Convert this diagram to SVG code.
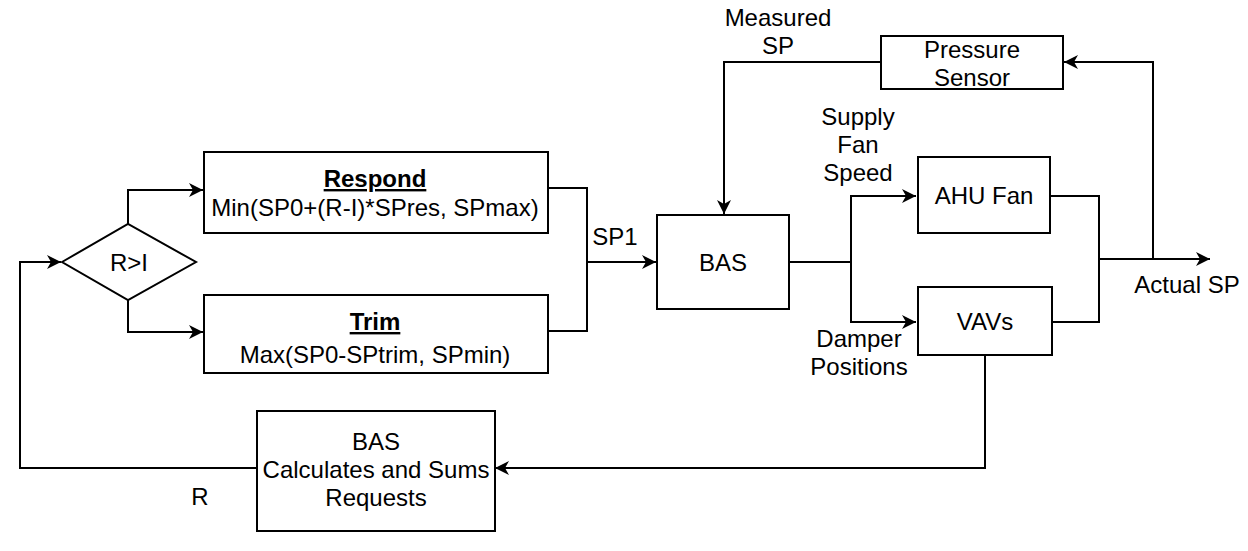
<svg xmlns="http://www.w3.org/2000/svg" width="1248" height="551" viewBox="0 0 1248 551">
<style>
.box{fill:#fff;stroke:#000;stroke-width:2}
.ln{fill:none;stroke:#000;stroke-width:2}
text{font-family:"Liberation Sans",Arial,sans-serif;font-size:24px;fill:#000;text-anchor:middle}
.b{font-weight:bold;text-decoration:underline}
</style>
<defs>
<marker id="ah" markerUnits="userSpaceOnUse" markerWidth="16" markerHeight="14" refX="14" refY="7" orient="auto">
<path d="M0,0 L14,7 L0,14 L4,7 z" fill="#000"/>
</marker>
</defs>
<rect width="1248" height="551" fill="#fff"/>
<g id="connectors">
<path class="ln" d="M128,225 V190 H203" marker-end="url(#ah)"/>
<path class="ln" d="M128,299 V332 H203" marker-end="url(#ah)"/>
<path class="ln" d="M548,188 H587 V331 H548"/>
<path class="ln" d="M587,262 H656" marker-end="url(#ah)"/>
<path class="ln" d="M789,262 H851"/>
<path class="ln" d="M851,262 V196 H916" marker-end="url(#ah)"/>
<path class="ln" d="M851,262 V322 H916" marker-end="url(#ah)"/>
<path class="ln" d="M1050,196 H1099 V322 H1052"/>
<path class="ln" d="M1099,259 H1210" marker-end="url(#ah)"/>
<path class="ln" d="M1153,259 V62 H1064" marker-end="url(#ah)"/>
<path class="ln" d="M881,62 H724 V214" marker-end="url(#ah)"/>
<path class="ln" d="M985,355 V468 H495" marker-end="url(#ah)"/>
<path class="ln" d="M257,468 H20 V262 H61" marker-end="url(#ah)"/>
</g>
<g id="decision">
<polygon class="box" points="62,262 128,224 196,262 128,300"/>
<text x="129" y="271">R&gt;I</text>
</g>
<g id="respond">
<rect class="box" x="204" y="152" width="344" height="81"/>
<text class="b" x="375" y="187">Respond</text>
<text x="375" y="216">Min(SP0+(R-I)*SPres, SPmax)</text>
</g>
<g id="trim">
<rect class="box" x="204" y="295" width="344" height="78"/>
<text class="b" x="375" y="330">Trim</text>
<text x="375" y="363">Max(SP0-SPtrim, SPmin)</text>
</g>
<g id="bas">
<rect class="box" x="657" y="215" width="132" height="94"/>
<text x="723" y="271">BAS</text>
</g>
<g id="ahu">
<rect class="box" x="918" y="157" width="132" height="76"/>
<text x="984" y="204">AHU Fan</text>
</g>
<g id="vavs">
<rect class="box" x="918" y="287" width="134" height="68"/>
<text x="985" y="330">VAVs</text>
</g>
<g id="sensor">
<rect class="box" x="881" y="36" width="182" height="53"/>
<text x="972" y="58">Pressure</text>
<text x="972" y="86">Sensor</text>
</g>
<g id="bascalc">
<rect class="box" x="257" y="411" width="238" height="120"/>
<text x="376" y="450">BAS</text>
<text x="376" y="478">Calculates and Sums</text>
<text x="376" y="506">Requests</text>
</g>
<g id="labels">
<text x="615" y="245">SP1</text>
<text x="778" y="26">Measured</text>
<text x="778" y="54">SP</text>
<text x="858" y="125">Supply</text>
<text x="858" y="153">Fan</text>
<text x="858" y="181">Speed</text>
<text x="859" y="347">Damper</text>
<text x="859" y="375">Positions</text>
<text x="1187" y="293">Actual SP</text>
<text x="200" y="505">R</text>
</g>
</svg>
